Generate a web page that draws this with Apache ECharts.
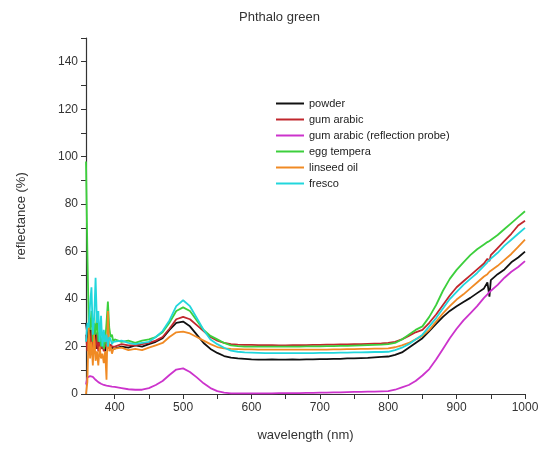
<!DOCTYPE html>
<html><head><meta charset="utf-8">
<script src="https://cdn.jsdelivr.net/npm/echarts@6/dist/echarts.min.js"></script>
<style>html,body{margin:0;padding:0;background:#fff}#c{width:545px;height:452px}</style>
</head><body><div id="c"></div>
<script>
var wavelengths = [
358,360,362,364,366,368,370,372,374,376,
378,380,382,384,386,388,390,392,394,396,
398,400,410,420,430,440,450,460,470,480,
490,500,510,520,530,540,550,560,570,580,
590,600,610,620,630,640,650,660,670,680,
690,700,710,720,730,740,750,760,770,780,
790,800,810,820,830,840,850,860,870,880,
890,900,910,920,930,940,945,948,950,960,
970,980,990,1000];

var powder = [
30,25,22,28,18,24,20,26,19,23,
18,22,19,21,18,22,20,21,19,20,
19,19,20,19.5,20.5,20,21,22,23.5,27,
30,30.5,28.5,25,21.5,19,17.3,16,15.3,15,
14.8,14.6,14.5,14.5,14.6,14.5,14.5,14.6,14.5,14.6,
14.6,14.7,14.7,14.8,14.8,15,15,15.1,15.2,15.4,
15.6,15.8,16.5,17.5,19.5,21.5,23.5,26.5,29.5,32.5,
35,37,38.8,40.5,42.5,44.5,47,41,48,50.5,
52.5,55.5,57.5,60];

var gumArabic = [
25,18,24,20,27,17,23,19,25,18,
22,19,21,18,21,20,22,19,21,20,
20,20,21,20.5,20.5,21,21.5,22.5,24,27.5,
31.5,32.5,31.5,29,26.5,24,22.5,21.5,21,20.8,
20.7,20.7,20.6,20.6,20.6,20.5,20.5,20.6,20.6,20.6,
20.7,20.7,20.8,20.8,20.9,20.9,21,21,21.1,21.2,
21.3,21.5,22,23,24.5,26,27,30,33.5,37.5,
41.5,45,47.5,50,52.5,55,57,56,58.5,61.5,
64.5,67.5,71,73];

var gumArabicProbe = [
4,7,6.5,7.5,6.8,7.2,6.5,6,5.5,5,
4.7,4.3,4,3.8,3.7,3.5,3.4,3.3,3.2,3.1,
3,3,2.5,2,1.8,1.8,2.5,3.8,5.5,8,
10.3,10.8,9.3,7,4.5,2.5,1.2,0.6,0.3,0.3,
0.3,0.3,0.3,0.3,0.3,0.4,0.4,0.4,0.4,0.5,
0.5,0.6,0.6,0.7,0.7,0.8,0.9,0.9,1,1,
1.1,1.2,1.8,2.8,3.8,5.5,7.8,10.5,14.5,19,
23.5,27.5,31,34,37,40.5,42,43,43.5,46,
49,51.5,53.5,56];

var eggTempera = [
98,60,30,27,35,22,30,25,34,22,
26,20,24,19,22,30,39,28,24,25,
22,23,22,22.5,21.5,22.5,23,24,26,30,
35,36.5,35,31,27,24.5,23,21.5,20.5,20.2,
20,20,20,20,20,20,20,20,20,20.1,
20.1,20.1,20.2,20.2,20.3,20.3,20.4,20.5,20.6,20.7,
20.8,21,21.5,23,25,27,28.5,32.5,37.5,43.5,
48.5,52.3,55.5,58.5,61,63,64,64.5,65,67,
69.5,72,74.5,77];

var linseedOil = [
0,5,28,15,22,12,25,14,18,12,
20,15,17,13,18,6,35,18,20,17,
19,19,19.5,18.5,19,18.5,19.5,20.5,21.5,24,
26,26.3,25.5,24,22.5,21,19.8,19.2,19,18.9,
18.8,18.8,18.7,18.7,18.7,18.7,18.7,18.7,18.7,18.7,
18.7,18.7,18.7,18.8,18.8,18.9,18.9,19,19,19.1,
19.1,19.2,19.7,20.5,21.5,23,24.5,27,30.5,34,
37,39.8,42,44.5,47,49.5,50.5,51.5,52,54,
56.5,59,62,65];

var fresco = [
22,30,28,38,45,25,32,49,30,35,
22,33,20,27,22,25,20,24,23,21,
22,22,22.5,21.5,21,21.5,22,24,26.5,31,
37,39.5,37,32,27,23,21,19.5,18.3,17.8,
17.5,17.4,17.3,17.2,17.2,17.2,17.2,17.2,17.2,17.2,
17.2,17.3,17.3,17.3,17.4,17.4,17.5,17.5,17.6,17.7,
17.7,17.8,18.5,19.5,21,23,25,28.5,32,36,
40,43,46,48.5,51,54,55.5,56.5,57,59.5,
62.5,65,67.5,70];

var seriesNames = ['powder','gum arabic','gum arabic (reflection probe)','egg tempera','linseed oil','fresco'];
var seriesColors = ['#111111','#c1272d','#cc33cc','#3ccf3c','#f08a24','#22d6dc'];
var seriesValues = [powder, gumArabic, gumArabicProbe, eggTempera, linseedOil, fresco];

var xLabelValues = [400,500,600,700,800,900,1000];
var xTickValues = [400,450,500,550,600,650,700,750,800,850,900,950,1000];
var yLabelValues = [0,20,40,60,80,100,120,140];
var yTickValues = [0,10,20,30,40,50,60,70,80,90,100,110,120,130,140,150];

var font = 'Liberation Sans, Arial, sans-serif';
var chart = echarts.init(document.getElementById('c'));
chart.setOption({
  animation: false,
  backgroundColor: '#ffffff',
  title: {text: 'Phthalo green', left: 234, top: 6,
    textStyle: {fontFamily: font, fontSize: 13, fontWeight: 'normal', color: '#333'}},
  legend: {
    orient: 'vertical', left: 271, top: 93, itemWidth: 28, itemHeight: 14, itemGap: 5,
    icon: 'path://M0,0L28,0L28,2L0,2Z', symbolKeepAspect: true,
    textStyle: {fontFamily: font, fontSize: 11, color: '#222'},
    data: seriesNames
  },
  grid: {left: 86, right: 20, top: 38, bottom: 58, containLabel: false},
  xAxis: {
    type: 'value', min: 358, max: 1000,
    name: 'wavelength (nm)', nameLocation: 'middle', nameGap: 35,
    nameTextStyle: {fontFamily: font, fontSize: 13, color: '#333'},
    axisLine: {show: true, lineStyle: {color: '#333', width: 1.2}},
    axisTick: {show: true, length: 5, customValues: xTickValues, lineStyle: {color: '#333'}},
    axisLabel: {customValues: xLabelValues, margin: 8, fontFamily: font, fontSize: 12, color: '#333',
      formatter: function (v) { return String(v); }},
    splitLine: {show: false}
  },
  yAxis: {
    type: 'value', min: 0, max: 150,
    name: 'reflectance (%)', nameLocation: 'middle', nameGap: 58,
    nameTextStyle: {fontFamily: font, fontSize: 13, color: '#333'},
    axisLine: {show: true, lineStyle: {color: '#333', width: 1.2}},
    axisTick: {show: true, length: 5, customValues: yTickValues, lineStyle: {color: '#333'}},
    axisLabel: {customValues: yLabelValues, margin: 8, fontFamily: font, fontSize: 12, color: '#333',
      formatter: function (v) { return String(v); }},
    splitLine: {show: false}
  },
  series: seriesNames.map(function (n, i) {
    return {
      name: n, type: 'line', symbol: 'none', color: seriesColors[i],
      lineStyle: {width: 1.8, color: seriesColors[i]},
      data: wavelengths.map(function (w, j) { return [w, seriesValues[i][j]]; })
    };
  })
});
</script></body></html>
